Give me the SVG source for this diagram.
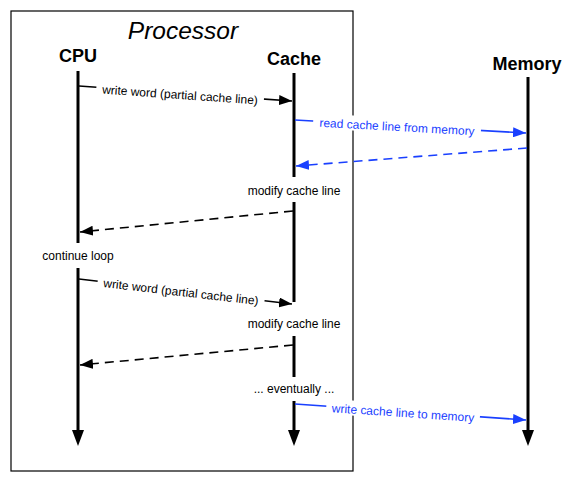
<svg xmlns="http://www.w3.org/2000/svg" width="577" height="482" viewBox="0 0 577 482">
<style>
text{font-family:"Liberation Sans",Arial,sans-serif;}
.hd{font-size:18px;font-weight:bold;text-anchor:middle;fill:#000;}
.lb{font-size:12px;text-anchor:middle;fill:#000;}
.bl{fill:#1a40ff;}
.life{stroke:#000;stroke-width:3;fill:none;}
.msg{stroke:#000;stroke-width:1.6;fill:none;}
.blue{stroke:#1a40ff;}
.dash{stroke-dasharray:9,6;}
.bg{fill:#fff;}
</style>
<defs>
<marker id="ah" markerUnits="userSpaceOnUse" markerWidth="14" markerHeight="10" refX="13" refY="5" orient="auto"><path d="M0,0 L13,5 L0,10 Z" fill="#000"/></marker>
<marker id="ahb" markerUnits="userSpaceOnUse" markerWidth="14" markerHeight="10" refX="13" refY="5" orient="auto"><path d="M0,0 L13,5 L0,10 Z" fill="#1a40ff"/></marker>
</defs>
<g id="processor">
<rect x="11" y="11" width="342" height="460" fill="none" stroke="#000" stroke-width="1.2"/>
<text x="183" y="39" style="font-size:24.5px;font-style:italic;text-anchor:middle">Processor</text>
</g>
<g id="cpu">
<text class="hd" x="78" y="62">CPU</text>
<line class="life" x1="78" y1="71" x2="78" y2="243"/>
<text class="lb" x="78" y="260">continue loop</text>
<line class="life" x1="78" y1="268" x2="78" y2="431"/>
<polygon points="72,430 84,430 78,446" fill="#000"/>
</g>
<g id="cache">
<text class="hd" x="294" y="65">Cache</text>
<line class="life" x1="294" y1="73" x2="294" y2="177"/>
<text class="lb" x="294" y="195">modify cache line</text>
<line class="life" x1="294" y1="202" x2="294" y2="302"/>
<text class="lb" x="294" y="328">modify cache line</text>
<line class="life" x1="294" y1="336" x2="294" y2="377"/>
<text class="lb" x="294" y="393">... eventually ...</text>
<line class="life" x1="294" y1="401" x2="294" y2="431"/>
<polygon points="288,430 300,430 294,446" fill="#000"/>
</g>
<g id="memory">
<text class="hd" x="527" y="70">Memory</text>
<line class="life" x1="528" y1="77" x2="528" y2="431"/>
<polygon points="522,430 534,430 528,446" fill="#000"/>
</g>
<g id="connectors">
<line class="msg" x1="79" y1="86" x2="292" y2="101" marker-end="url(#ah)"/>
<line class="msg blue" x1="295" y1="120" x2="526" y2="133" marker-end="url(#ahb)"/>
<line class="msg blue dash" x1="527" y1="148" x2="296" y2="166" marker-end="url(#ahb)"/>
<line class="msg dash" x1="293" y1="211" x2="80" y2="232" marker-end="url(#ah)"/>
<line class="msg" x1="79" y1="279" x2="292" y2="304" marker-end="url(#ah)"/>
<line class="msg dash" x1="293" y1="345" x2="80" y2="365" marker-end="url(#ah)"/>
<line class="msg blue" x1="295" y1="404" x2="526" y2="420" marker-end="url(#ahb)"/>
<g transform="translate(180,95) rotate(4)">
<rect class="bg" x="-84" y="-9" width="168" height="15"/>
<text class="lb" x="0" y="4">write word (partial cache line)</text>
</g>
<g transform="translate(397,127) rotate(3.2)">
<rect class="bg" x="-84" y="-9" width="168" height="15"/>
<text class="lb bl" x="0" y="4">read cache line from memory</text>
</g>
<g transform="translate(181,292) rotate(6.6)">
<rect class="bg" x="-84" y="-9" width="168" height="15"/>
<text class="lb" x="0" y="4">write word (partial cache line)</text>
</g>
<g transform="translate(403,413) rotate(3.9)">
<rect class="bg" x="-77" y="-9" width="154" height="15"/>
<text class="lb bl" x="0" y="4">write cache line to memory</text>
</g>
</g>
</svg>
